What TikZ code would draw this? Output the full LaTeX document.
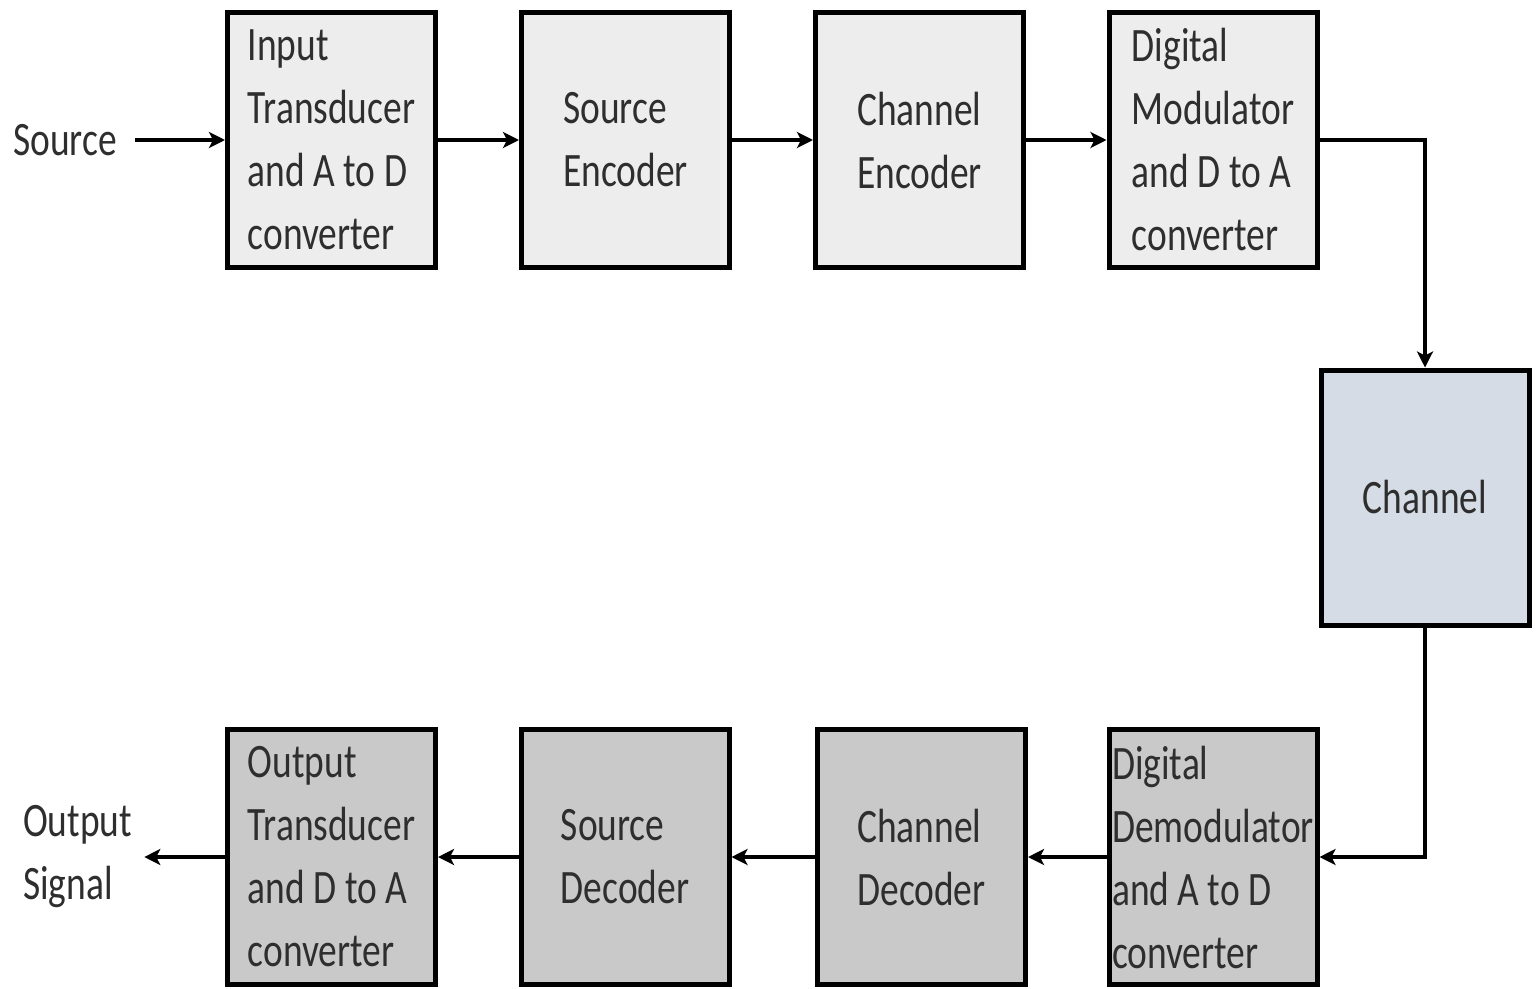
\documentclass[tikz,border=0pt]{standalone}
\usepackage{fontspec}
\setmainfont[FakeStretch=0.78]{Carlito}
\usetikzlibrary{arrows.meta}
\definecolor{boxtop}{HTML}{EDEDED}
\definecolor{boxchan}{HTML}{D6DCE5}
\definecolor{boxbot}{HTML}{C9C9C9}
\definecolor{txtgray}{HTML}{2E2E2E}
\tikzset{
  |-/.style={to path={|- (\tikztotarget) \tikztonodes}},
  -|/.style={to path={-| (\tikztotarget) \tikztonodes}},
  arr/.style={line width=4.5pt, -{Stealth[length=16pt,width=16pt,inset=4pt]}}
  }

\begin{document}
\begin{tikzpicture}[x=1pt,y=-1pt]
\useasboundingbox (0,0) rectangle (1538,988);
\begin{scope}[nodes={shape=rectangle, draw=black, line width=5pt, minimum width=+208pt, minimum height=+255pt,
    align=left, inner sep=+0pt, text=txtgray, font=\fontsize{48}{63}\selectfont}]
  \node[fill=boxtop]  (itx)  at ( 331.5,140  ) {Input\\Transducer\\and A to D\\converter};
  \node[fill=boxtop]  (senc) at ( 625.5,140  ) {Source\\Encoder};
  \node[fill=boxtop]  (cenc) at ( 919.5,140  ) {Channel\\Encoder};
  \node[fill=boxtop]  (dmod) at (1213  ,140  ) {Digital\\Modulator\\and D to A\\converter};
  \node[fill=boxchan] (chan) at (1425  ,497.5) {Channel};
  \node[fill=boxbot]  (ddem) at (1213  ,857  ) {Digital\\Demodulator\\and A to D\\converter};
  \node[fill=boxbot]  (cdec) at ( 921.5,857  ) {Channel\\Decoder};
  \node[fill=boxbot]  (sdec) at ( 625  ,857  ) {Source\\Decoder};
  \node[fill=boxbot]  (otx)  at ( 331.5,857  ) {Output\\Transducer\\and D to A\\converter};
\end{scope}
\tikzset{nodes={align=left, inner sep=+0pt, text=txtgray, font=\fontsize{48}{63}\selectfont}}
\node[anchor=west] (src)  at (13,140) {Source};
\node[anchor=west] (osig) at (23,857) {Output\\Signal};
\path[arr] (src.east) edge[shorten <=+18pt] (itx)
           (itx)  edge (senc)
           (senc) edge (cenc)
           (cenc) edge (dmod)
           (dmod) edge[-|] (chan)
           (chan) edge[|-] (ddem)
           (ddem) edge (cdec)
           (cdec) edge (sdec)
           (sdec) edge (otx)
           (otx)  edge[shorten >=+12pt] (osig.east)
;
\end{tikzpicture}
\end{document}
